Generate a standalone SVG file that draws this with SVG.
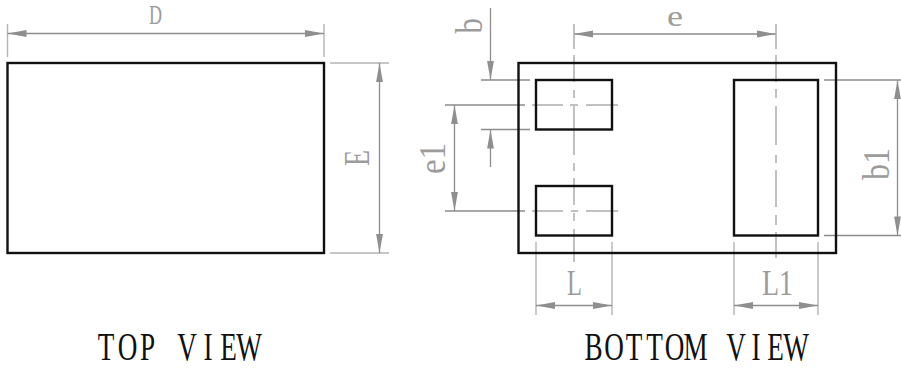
<svg xmlns="http://www.w3.org/2000/svg" width="901" height="369" viewBox="0 0 901 369">
<style>
.o{fill:none;stroke:#111;stroke-width:2.4}
.d{fill:none;stroke:#8c8c8c;stroke-width:1.3}
.x{fill:none;stroke:#b4b4b4;stroke-width:1.4}
.c{fill:none;stroke:#adadad;stroke-width:1.5}
.a{fill:#8f8f8f}
.l{font-family:"Liberation Serif",serif;fill:#9c9c9c}
.t{font-family:"Liberation Serif",serif;fill:#111;font-size:40px;text-anchor:middle}
</style>
<defs>
<polygon id="ah" class="a" points="0,0 19,-3.4 19,3.4"/>
</defs>
<rect width="901" height="369" fill="#fff"/>
<g id="connectors">
<path class="x" d="M7.5 24V57M324 24V57M330 63H389M330 253H389"/>
<path class="x" d="M536 242V315M612 242V315M734 242V315M818 242V315"/>
<path class="d" d="M7.5 33.5H324M379.5 63V253M574 34H776M490.5 8V80M490.5 129.5V167M481 80H530M481 129.5H530M454.5 105V211M445 105H525M445 211H525M824 80H901M824 235.5H901M897.5 80V235.5M536 305.5H612M734 305.5H818"/>
<path class="c" d="M574 24V49M574 55V82M574 90V98M574 106V155M574 163V171M574 178V205M574 213V221M574 229V262"/>
<path class="c" d="M776 24V49M776 55V82M776 89V98M776 106V145M776 155V163M776 170V207M776 215V225M776 232V258"/>
<path class="c" d="M532 105H563M570 105H578M586 105H618M532 211H563M571 211H578M586 211H618"/>
<use href="#ah" transform="translate(7.5 33.5)"/>
<use href="#ah" transform="translate(324 33.5) rotate(180)"/>
<use href="#ah" transform="translate(379.5 63) rotate(90)"/>
<use href="#ah" transform="translate(379.5 253) rotate(-90)"/>
<use href="#ah" transform="translate(574 34)"/>
<use href="#ah" transform="translate(776 34) rotate(180)"/>
<use href="#ah" transform="translate(490.5 80) rotate(-90)"/>
<use href="#ah" transform="translate(490.5 129.5) rotate(90)"/>
<use href="#ah" transform="translate(454.5 105) rotate(90)"/>
<use href="#ah" transform="translate(454.5 211) rotate(-90)"/>
<use href="#ah" transform="translate(897.5 80) rotate(90)"/>
<use href="#ah" transform="translate(897.5 235.5) rotate(-90)"/>
<use href="#ah" transform="translate(536 305.5)"/>
<use href="#ah" transform="translate(612 305.5) rotate(180)"/>
<use href="#ah" transform="translate(734 305.5)"/>
<use href="#ah" transform="translate(818 305.5) rotate(180)"/>
</g>
<g id="top-view">
<rect class="o" x="7.5" y="63" width="316.5" height="190"/>
<text class="t" transform="translate(0 360) scale(.68 1)" x="155.9 187.5 216.9 245.6 275 305.9 336 366.2">TOP VIEW</text>
</g>
<g id="bottom-view">
<rect class="o" x="518.5" y="63" width="317.5" height="190"/>
<rect class="o" x="536" y="80" width="76" height="49.5"/>
<rect class="o" x="536" y="186" width="76" height="49.5"/>
<rect class="o" x="734" y="80" width="84" height="155.5"/>
<text class="t" transform="translate(0 360) scale(.68 1)" x="872.8 902.9 932.4 962.5 991.9 1022.8 1052.9 1082.4 1111.8 1140.4 1170.6">BOTTOM VIEW</text>
</g>
<g id="labels">
<text class="l" font-size="27" x="149" y="24" textLength="13" lengthAdjust="spacingAndGlyphs">D</text>
<text class="l" font-size="29" x="667" y="26" textLength="16" lengthAdjust="spacingAndGlyphs">e</text>
<text class="l" font-size="36" transform="translate(369 166) rotate(-90)" textLength="16" lengthAdjust="spacingAndGlyphs">E</text>
<text class="l" font-size="37" transform="translate(482 33.5) rotate(-90)" textLength="15.5" lengthAdjust="spacingAndGlyphs">b</text>
<text class="l" font-size="37" transform="translate(445 174) rotate(-90)" textLength="31" lengthAdjust="spacingAndGlyphs">e1</text>
<text class="l" font-size="38" transform="translate(889 180) rotate(-90)" textLength="32" lengthAdjust="spacingAndGlyphs">b1</text>
<text class="l" font-size="36" x="567" y="295" textLength="15" lengthAdjust="spacingAndGlyphs">L</text>
<text class="l" font-size="36" x="762" y="295" textLength="31" lengthAdjust="spacingAndGlyphs">L1</text>
</g>
</svg>
